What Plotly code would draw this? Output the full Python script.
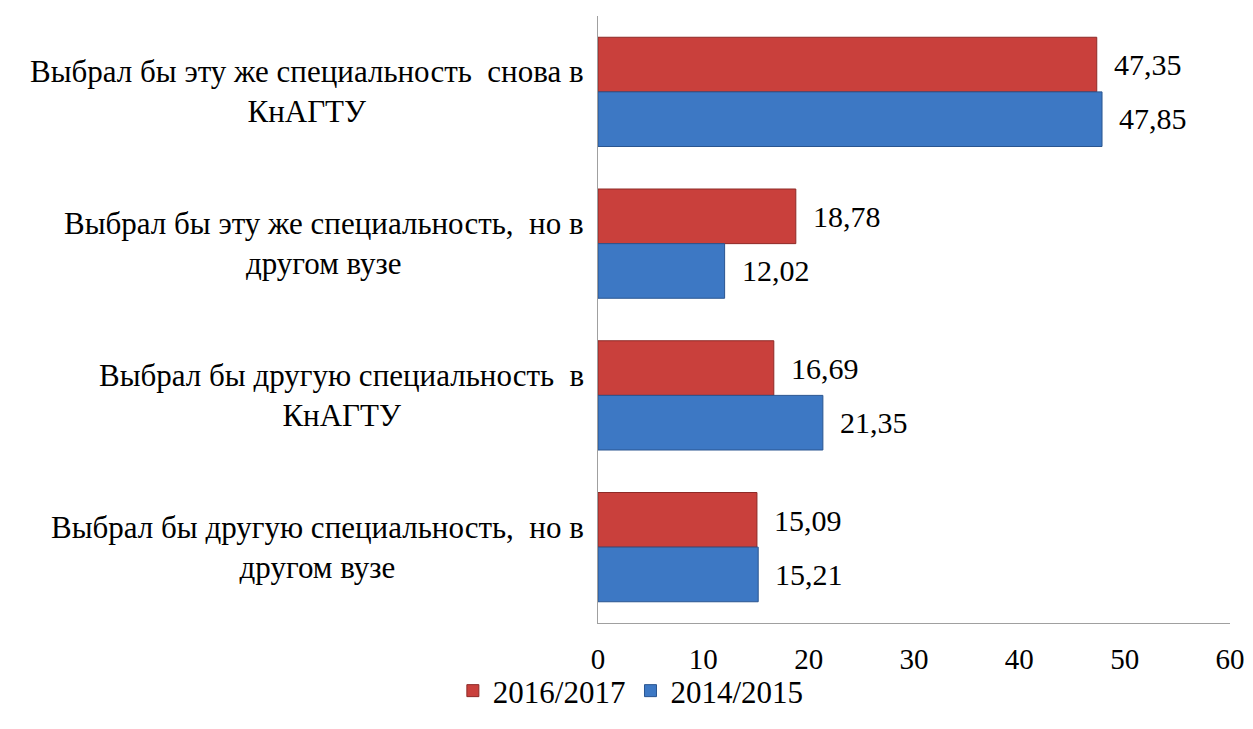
import plotly.graph_objects as go

categories = [
    "Выбрал бы эту же специальность  снова в<br>КнАГТУ",
    "Выбрал бы эту же специальность,  но в<br>другом вузе",
    "Выбрал бы другую специальность  в<br>КнАГТУ",
    "Выбрал бы другую специальность,  но в<br>другом вузе",
]
series_names = ["2016/2017", "2014/2015"]
values_2016 = [47.35, 18.78, 16.69, 15.09]
values_2014 = [47.85, 12.02, 21.35, 15.21]

colors = ["#C9403C", "#3D78C4"]
edges = ["#8E2A27", "#2A5590"]
FONT = "Liberation Serif, Times New Roman, serif"

fig = go.Figure()
for name, vals, col, edge in zip(series_names, [values_2016, values_2014], colors, edges):
    fig.add_trace(go.Bar(
        name=name,
        y=categories,
        x=vals,
        orientation="h",
        marker=dict(color=col, line=dict(color=edge, width=1)),
    ))

# value labels with decimal comma
annotations = []
for vals, shift in [(values_2016, 27), (values_2014, -27)]:
    for cat, v in zip(categories, vals):
        annotations.append(dict(
            x=v, y=cat, xref="x", yref="y",
            text=f"{v:.2f}".replace(".", ","),
            showarrow=False, xanchor="left", yanchor="middle",
            xshift=15, yshift=shift,
            font=dict(size=30, color="black", family=FONT),
        ))

# category labels, centre-aligned like the original
for cat in categories:
    annotations.append(dict(
        x=0, y=cat, xref="paper", yref="y",
        text=cat, showarrow=False, xanchor="right", yanchor="middle",
        align="center", xshift=-12,
        font=dict(size=31, color="black", family=FONT),
    ))

fig.update_layout(
    width=1245,
    height=721,
    margin=dict(l=590, r=17, t=8, b=106),
    paper_bgcolor="white",
    plot_bgcolor="white",
    barmode="group",
    bargap=0.28,
    bargroupgap=0,
    font=dict(family=FONT, size=29, color="black"),
    annotations=annotations,
    legend=dict(
        orientation="h",
        x=0.052, xanchor="center",
        y=-0.112, yanchor="middle",
        bgcolor="rgba(0,0,0,0)",
        font=dict(size=31, family=FONT),
        itemwidth=30,
    ),
    xaxis=dict(
        range=[0, 60],
        dtick=10,
        showgrid=False,
        zeroline=False,
        showline=True,
        linecolor="#A0A0A0",
        linewidth=1,
        ticks="",
        ticklabelstandoff=10,
        tickfont=dict(size=29, family=FONT),
    ),
    yaxis=dict(
        autorange="reversed",
        showticklabels=False,
        showgrid=False,
        showline=True,
        linecolor="#A0A0A0",
        linewidth=1,
        ticks="",
    ),
)

fig.write_html("out.html")
